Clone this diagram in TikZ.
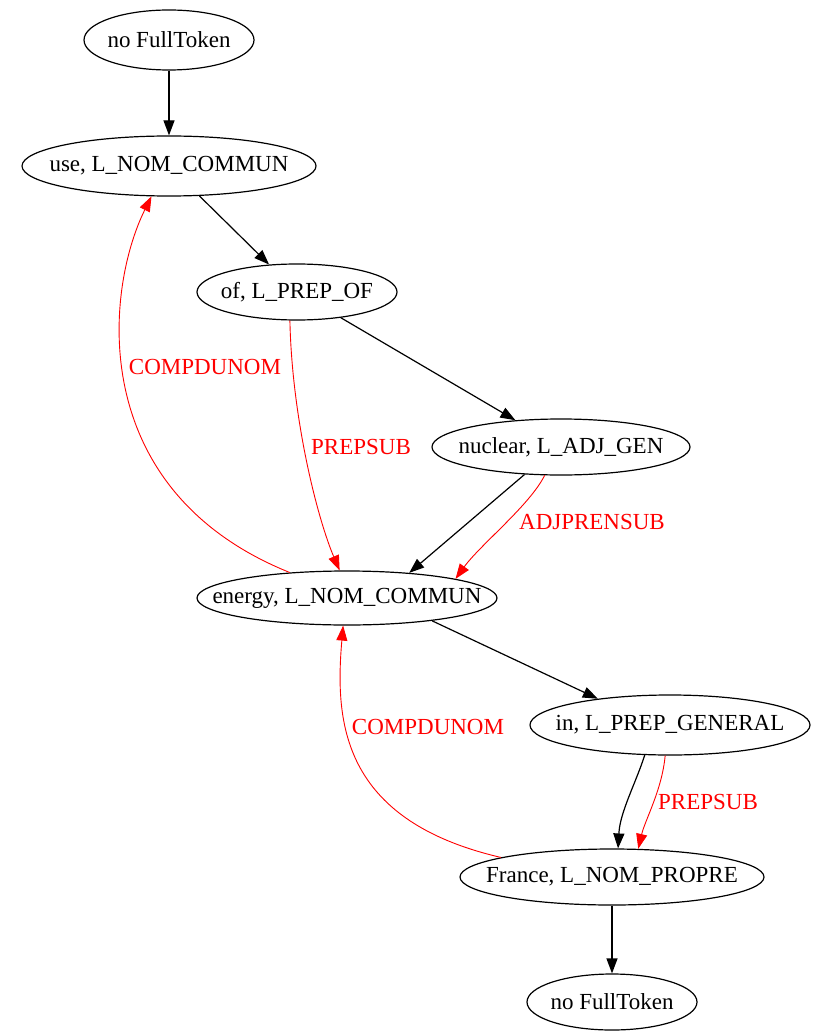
\documentclass[tikz,border=0pt]{standalone}
\usepackage{fontspec}
\setmainfont{Liberation Serif}
\usetikzlibrary{arrows.meta,shapes.geometric}
\newcommand{\nodetext}[1]{\makebox[0pt]{#1}}
\begin{document}
\begin{tikzpicture}[x=1pt,y=-1pt,
  el/.style={draw, ellipse, line width=1.2pt, inner sep=0pt, font=\fontsize{23}{27}\selectfont},
  blk/.style={draw=black, line width=1.2pt, -{Triangle[length=15pt,width=11pt]}},
  rd/.style={draw=red, line width=0.9pt, -{Triangle[length=15pt,width=11pt]}},
  lab/.style={text=red, font=\fontsize{23}{27}\selectfont, inner sep=0pt}]
\useasboundingbox (0,0) rectangle (822,1032);

\node[el, minimum width=170, minimum height=60] (n1) at (169,40) {\nodetext{no FullToken}};
\node[el, minimum width=294, minimum height=60] (n2) at (169,166) {\nodetext{use, L\_NOM\_COMMUN}};
\node[el, minimum width=200, minimum height=56] (n3) at (297,292) {\nodetext{of, L\_PREP\_OF}};
\node[el, minimum width=258, minimum height=56] (n4) at (561,447) {\nodetext{nuclear, L\_ADJ\_GEN}};
\node[el, minimum width=300, minimum height=54] (n5) at (347,598) {\nodetext{energy, L\_NOM\_COMMUN}};
\node[el, minimum width=280, minimum height=60] (n6) at (670,725) {\nodetext{in, L\_PREP\_GENERAL}};
\node[el, minimum width=304, minimum height=56] (n7) at (612,877) {\nodetext{France, L\_NOM\_PROPRE}};
\node[el, minimum width=170, minimum height=56] (n8) at (612,1002) {\nodetext{no FullToken}};

% black edges
\draw[blk] (n1.south) -- (n2.north);
\draw[blk] (n2) -- (n3);
\draw[blk] (n3) -- (n4);
\draw[blk] (n4.-143) -- (n5.22);
\draw[blk] (n5.-15) -- (n6.160);
\draw[blk] (n6.-130) .. controls (635,785) and (620,812) .. (n7.78);
\draw[blk] (n7.south) -- (n8.north);

% red edges
\draw[rd] (n5.156) .. controls (85,490) and (105,290) .. (n2.240);
\node[lab] (l1) at (205,367) {COMPDUNOM};
\draw[rd] (n3.-104) .. controls (292,420) and (318,520) .. (n5.105);
\node[lab] (l2) at (361,447) {PREPSUB};
\draw[rd] (n4.-120) .. controls (530,505) and (480,545) .. (n5.10);
\node[lab] (l3) at (592,522) {ADJPRENSUB};
\draw[rd] (n6.-99) .. controls (662,790) and (645,820) .. (n7.47);
\node[lab] (l4) at (708,802) {PREPSUB};
\draw[rd] (n7.170) .. controls (340,820) and (335,720) .. (n5.-98);
\node[lab] (l5) at (428,727) {COMPDUNOM};
\end{tikzpicture}
\end{document}
